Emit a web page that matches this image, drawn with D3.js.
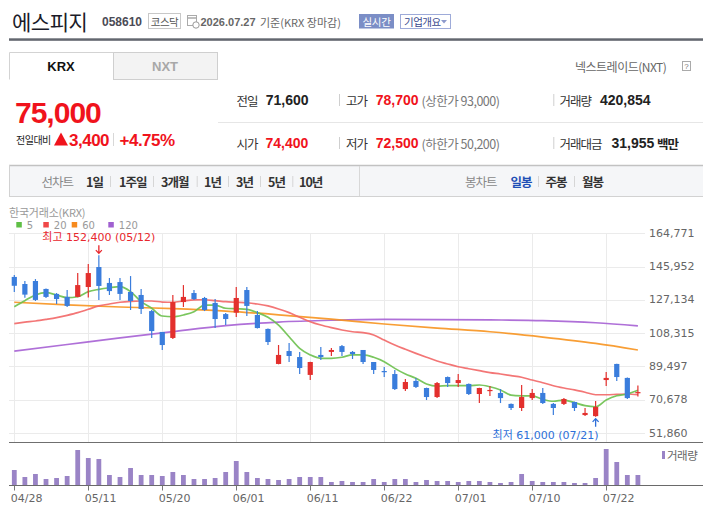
<!DOCTYPE html>
<html><head><meta charset="utf-8">
<script src="https://cdn.jsdelivr.net/npm/d3@7"></script>
<style>
html,body{margin:0;padding:0;background:#fff;}
svg{display:block;}
text{font-family:"Noto Sans CJK KR","Noto Sans",sans-serif;}
</style></head><body>
<script>
// ---------- data ----------
const dates=["04/28","04/29","04/30","05/04","05/06","05/07","05/08","05/11","05/12","05/13","05/14","05/15","05/18","05/19","05/20","05/21","05/22","05/26","05/27","05/28","05/29","06/01","06/02","06/04","06/05","06/08","06/09","06/10","06/11","06/12","06/15","06/16","06/17","06/18","06/19","06/22","06/23","06/24","06/25","06/26","06/29","06/30","07/01","07/02","07/03","07/06","07/07","07/08","07/09","07/10","07/13","07/14","07/15","07/16","07/20","07/21","07/22","07/23","07/24","07/27"];
const opens=[140100,136100,137800,133300,130500,128800,128800,134400,145700,136700,
137200,131600,129900,120800,109000,105600,125900,131000,128200,125400,
119100,119900,132700,118600,110700,90900,98200,94800,84700,96000,
97700,101000,97700,98800,92000,86900,85200,76700,81300,77300,
72200,83500,80100,79600,73900,75600,74500,68300,66000,71600,
74500,68300,68300,69400,62000,61400,81800,90900,83000,74400];
const highs=[141200,137800,138900,133600,131000,132700,142300,147400,152400,139500,
139500,140600,133300,121400,109000,129900,135500,132700,128800,127600,
119700,134400,134400,120800,110900,101600,102700,97700,92200,100500,
99900,101600,98200,98800,92000,89200,87500,82400,83000,77500,
80700,83800,85200,79800,77500,78400,76700,68500,79000,76700,
77300,68800,71600,69600,66000,70000,86300,91000,83200,78700];
const lows=[131600,128400,126500,128200,124800,123100,128600,128500,127100,129900,
127100,121400,119100,105600,98800,105000,123100,127100,120800,111200,
112900,117400,118000,111000,101600,90700,92000,85200,81800,93100,
95400,95400,93700,90900,85200,83500,76200,75600,77300,70500,
71600,77900,77900,73300,68800,72800,68800,64900,64300,70500,
68300,62000,67700,64300,61500,61000,78400,81300,71100,72500];
const closes=[135100,130100,127100,128800,127600,123700,135500,142300,135000,132100,
130500,126500,122000,109500,101600,125900,128800,127600,121400,116300,
116300,128200,123700,111200,103300,96000,95400,88600,92000,94800,
98800,97700,96500,92000,87500,86300,76700,80700,77900,72200,
80100,80100,81800,73900,77300,76200,71600,66000,72200,74500,
68800,66000,71100,66000,63200,66600,83000,83500,71600,75000];
const volumes=[625000,339000,462000,257000,298000,380000,1442000,1115000,1075000,421000,
339000,707000,421000,421000,380000,543000,421000,257000,257000,298000,
543000,993000,543000,298000,257000,217000,257000,339000,339000,339000,
135000,176000,135000,135000,257000,135000,257000,257000,135000,217000,
176000,176000,135000,176000,176000,135000,94000,135000,462000,176000,
135000,135000,135000,94000,94000,298000,1483000,952000,421000,420854];
const ma5=[123300,126700,129900,131200,129900,128400,128900,131800,133100,134000,
134600,131800,126100,122400,118000,117600,118600,120400,124200,124200,
122400,122100,121800,119900,117300,112900,106300,99700,96000,94100,
94100,94700,96000,96000,94700,92200,88400,85200,82800,79600,
78400,78600,78600,78600,79000,78000,76200,73300,72900,72800,
70900,69800,70500,69000,67300,66700,70500,72900,73900,76000];
const ma20=[113700,114500,115200,116100,117100,118400,119900,121800,123700,124800,
125800,126300,126500,126500,125900,125800,126500,127100,127200,126700,
126100,125800,125500,124800,123700,122000,119900,117300,114800,112900,
111400,110100,109100,108600,107300,104400,101600,99200,96900,94700,
92600,90900,89300,88200,87100,86000,85200,84300,83400,81800,
80300,78600,77300,76200,74900,73500,73500,73700,73900,73500];
const maSampleDates=["04/28","05/07","05/14","05/21","05/29","06/08","06/15","06/22","06/29","07/06","07/13","07/21","07/27"];
const ma60=[125800,124300,123100,122200,120800,118700,116200,113500,111200,109100,106100,102500,98800];
const ma120=[98200,101900,105600,109200,112600,114600,115600,116100,116000,115800,115400,114200,112400];
const xTickLabels=["04/28","05/11","05/20","06/01","06/11","06/22","07/01","07/10","07/22"];
const priceTicks=[51860,70678,89497,108315,127134,145952,164771];
const maLegend=["5","20","60","120"];
const chartTabs=["1일","1주일","3개월","1년","3년","5년","10년"];
const candleTabs=["일봉","주봉","월봉"];

// ---------- setup ----------
const NUM='"Liberation Sans",Arial,sans-serif';
const DV='"DejaVu Sans","Noto Sans CJK KR",sans-serif';
const RED='#f0131c';
const svg=d3.select('body').append('svg').attr('width',703).attr('height',509);
function T(x,y,s,o={}){
  const t=svg.append('text').attr('x',x).attr('y',y).text(s)
    .attr('dominant-baseline',o.db||'central').attr('font-size',o.size||12).attr('fill',o.fill||'#333');
  if(o.weight) t.attr('font-weight',o.weight);
  if(o.family) t.style('font-family',o.family);
  if(o.ls!=null) t.attr('letter-spacing',o.ls);
  if(o.anchor) t.attr('text-anchor',o.anchor);
  return t;
}
function L(x1,y1,x2,y2,c,w){svg.append('line').attr('x1',x1).attr('y1',y1).attr('x2',x2).attr('y2',y2).attr('stroke',c).attr('stroke-width',w||1);}

// ---------- header ----------
T(12,21,'에스피지',{size:21,fill:'#1b1b29',ls:-0.5});
T(102,22,'058610',{size:12,weight:'bold',fill:'#4b4b55',family:NUM});
svg.append('rect').attr('x',148.5).attr('y',13.5).attr('width',32).attr('height',15).attr('fill','#fff').attr('stroke','#c8c8c8');
T(164.5,21.5,'코스닥',{size:10.5,fill:'#555',anchor:'middle',ls:-0.5});
svg.append('rect').attr('x',187.5).attr('y',15.5).attr('width',9).attr('height',10).attr('fill','#fff').attr('stroke','#aaa');
L(187.5,18,196.5,18,'#aaa',1.5);
svg.append('circle').attr('cx',196).attr('cy',25).attr('r',3.2).attr('fill','#fff').attr('stroke','#999');
T(200.5,22,'2026.07.27',{size:11,weight:'bold',fill:'#666',family:NUM});
T(260,22,'기준(KRX 장마감)',{size:11,fill:'#666'});
svg.append('rect').attr('x',359).attr('y',14).attr('width',35).attr('height',14.5).attr('fill','#7b8ec6');
T(376.5,21.5,'실시간',{size:10.5,fill:'#fff',anchor:'middle',ls:-0.3});
svg.append('rect').attr('x',400.5).attr('y',14.5).attr('width',50).attr('height',14).attr('fill','#fff').attr('stroke','#9eabd9');
T(404,21.5,'기업개요',{size:10.5,fill:'#3a4a8e',ls:-0.5});
svg.append('path').attr('d','M441,20 L447,20 L444,23.5 Z').attr('fill','#8e9bcc');
svg.append('rect').attr('x',9).attr('y',38.3).attr('width',694).attr('height',2.5).attr('fill','#63676f');

// tabs
svg.append('rect').attr('x',113.5).attr('y',52.5).attr('width',104).attr('height',27).attr('fill','#f3f3f3').attr('stroke','#cfcfcf');
svg.append('path').attr('d','M9.5,79.5 V52.5 H113.5').attr('fill','none').attr('stroke','#d3d3d3');
T(61,66,'KRX',{size:13,weight:'bold',fill:'#111',anchor:'middle',family:NUM});
T(165,66,'NXT',{size:13,weight:'bold',fill:'#a8a8a8',anchor:'middle',family:NUM});
T(575,66,'넥스트레이드(NXT)',{size:12,fill:'#666',ls:-0.5});
svg.append('rect').attr('x',682.5).attr('y',61.5).attr('width',8).attr('height',9).attr('fill','#fff').attr('stroke','#aaa');
T(686.5,66,'?',{size:8,fill:'#777',anchor:'middle',family:NUM});

// price block
const fmt=d3.format(',');
const last=closes.length-1, prev=closes[last-1];
const diff=closes[last]-prev;
T(15,123.3,fmt(closes[last]),{db:'alphabetic',size:30,weight:'bold',fill:RED,family:NUM,ls:-1});
T(16,139.5,'전일대비',{size:10,fill:'#222',ls:-0.5});
svg.append('polygon').attr('points','54,145.5 61,132.5 68,145.5').attr('fill',RED);
T(69,145.5,fmt(diff),{db:'alphabetic',size:17,weight:'bold',fill:RED,family:NUM,ls:-0.5});
L(113.5,133,113.5,146,'#d8d8d8');
T(119.5,145.5,'+'+(diff/prev*100).toFixed(2)+'%',{db:'alphabetic',size:17,weight:'bold',fill:RED,family:NUM,ls:-0.5});

function info(x,y,label,val,color,lx){
  T(x,y,label,{size:12.5,fill:'#333',ls:-1});
  T(lx,y,val,{size:14,weight:'bold',fill:color,family:NUM});
}
info(236.5,100,'전일',fmt(prev),'#222',265.7);
info(236.5,143.3,'시가',fmt(opens[last]),RED,265.5);
info(346,100,'고가',fmt(highs[last]),RED,375.8);
info(346,143.3,'저가',fmt(lows[last]),RED,375.8);
T(421.5,100,'(상한가 93,000)',{size:12.5,fill:'#777',ls:-0.5});
T(421.5,143.3,'(하한가 50,200)',{size:12.5,fill:'#777',ls:-0.5});
info(559.5,100,'거래량',fmt(volumes[last]),'#222',600);
info(559.5,143.3,'거래대금','31,955','#222',611.5);
T(657,143.3,'백만',{size:12.5,weight:'bold',fill:'#222',ls:-1});
[339.5,553.8].forEach(x=>{L(x,94,x,106,'#cfcfcf');L(x,137,x,149,'#cfcfcf');});
L(218,122.5,703,122.5,'#e6e6e6');

// tab bar
svg.append('rect').attr('x',9).attr('y',165).attr('width',694).attr('height',32).attr('fill','#f5f6f8');
L(9,165.5,703,165.5,'#c2c2c2',1.5);L(9,196.5,703,196.5,'#d2d2d2');L(9.5,165,9.5,197,'#d2d2d2');
L(359.5,166,359.5,196,'#d8d8d8');
T(41.5,181,'선차트',{size:12.5,fill:'#888',ls:-1});
const tabX=[86,119,161,204,236,268,299];
chartTabs.forEach((s,i)=>{T(tabX[i],181,s,{size:12.5,weight:'bold',fill:'#333',ls:-1});});
[110,153,196.7,228,260,292.3].forEach(x=>L(x+0.5,176,x+0.5,187,'#d6d6d6'));
T(465,181,'봉차트',{size:12.5,fill:'#888',ls:-1});
const ctX=[510.5,545.5,582];
candleTabs.forEach((s,i)=>{T(ctX[i],181,s,{size:12.5,weight:'bold',fill:i===0?'#1f4fb5':'#333',ls:-1});});
[538,574].forEach(x=>L(x+0.5,176,x+0.5,187,'#d6d6d6'));

// ---------- chart ----------
const x=d3.scalePoint().domain(dates).range([14.3,637.9]);
const y=d3.scaleLinear().domain([51860,164771]).range([433,233.3]);
const yv=d3.scaleLinear().domain([0,1757000]).range([485.3,442.3]);
const g=svg.append('g');

// legend
T(9,212,'한국거래소(KRX)',{size:11,fill:'#999',ls:-0.2});
const maColors=['#5fbf45','#f04848','#f68a1e','#a060d0'];
const legX=[16.3,43.3,71.7,108.3];
maLegend.forEach((s,i)=>{
  svg.append('rect').attr('x',legX[i]).attr('y',222).attr('width',5.5).attr('height',5.5).attr('fill',maColors[i]);
  T(legX[i]+10.5,225,s,{size:10,fill:'#999',family:DV});
});

// grid
priceTicks.forEach(v=>{
  g.append('line').attr('x1',9).attr('x2',645).attr('y1',Math.round(y(v))+0.5).attr('y2',Math.round(y(v))+0.5).attr('stroke','#ebebeb');
  T(649,y(v),fmt(v),{size:11,fill:'#666',family:DV});
});
xTickLabels.forEach(d=>{
  const xx=Math.round(x(d))+0.5;
  g.append('line').attr('x1',xx).attr('x2',xx).attr('y1',233.3).attr('y2',442).attr('stroke','#ebebeb');
});

// MA lines
const lineIdx=d3.line().x((v,i)=>x(dates[i])).y(v=>y(v)).curve(d3.curveMonotoneX);
const lineS=d3.line().x((v,i)=>x(maSampleDates[i])).y(v=>y(v)).curve(d3.curveMonotoneX);
const maStroke=['#6cc04c','#f26767','#f7931f','#a661d4'];
[[ma120,lineS,3],[ma60,lineS,2],[ma20,lineIdx,1],[ma5,lineIdx,0]].forEach(([arr,fn,ci])=>{
  g.append('path').attr('d',fn(arr)).attr('fill','none').attr('stroke',maStroke[ci]).attr('stroke-width',1.7).attr('opacity',0.9);
});

// candles
const UP='#e3302d',DN='#3a7ddc';
dates.forEach((d,i)=>{
  const cx=x(d), up=closes[i]>=opens[i], col=up?UP:DN;
  g.append('line').attr('x1',cx).attr('x2',cx).attr('y1',y(highs[i])).attr('y2',y(lows[i])).attr('stroke',col).attr('stroke-width',1.2);
  const top=y(Math.max(opens[i],closes[i])), bot=y(Math.min(opens[i],closes[i]));
  g.append('rect').attr('x',cx-2.6).attr('width',5.2).attr('y',top).attr('height',Math.max(1.2,bot-top)).attr('fill',col);
});

// high / low annotations
const hiI=d3.maxIndex(highs), loI=d3.minIndex(lows);
const hx=x(dates[hiI]), hy=y(highs[hiI]);
T(hx,237.5,'최고 '+fmt(highs[hiI])+' ('+dates[hiI]+')',{size:11,fill:'#e8272d',anchor:'middle',family:DV});
svg.append('path').attr('d',`M${hx},${hy-10} V${hy-2} M${hx-3},${hy-5} L${hx},${hy-1.8} L${hx+3},${hy-5}`).attr('fill','none').attr('stroke','#e8272d').attr('stroke-width',1.3);
const lx=x(dates[loI]), ly=y(lows[loI]);
T(lx+3,435,'최저 '+fmt(lows[loI])+' ('+dates[loI]+')',{size:11,fill:'#2d6fd8',anchor:'end',family:DV});
svg.append('path').attr('d',`M${lx},${ly+10} V${ly+2} M${lx-3},${ly+5} L${lx},${ly+1.8} L${lx+3},${ly+5}`).attr('fill','none').attr('stroke','#2d6fd8').attr('stroke-width',1.3);

// volume
L(9,442.5,703,442.5,'#6f6f6f');
dates.forEach((d,i)=>{
  g.append('rect').attr('x',x(d)-2.4).attr('width',4.8).attr('y',yv(volumes[i])).attr('height',485.3-yv(volumes[i])).attr('fill','#9a84c6');
});
L(9,485.5,703,485.5,'#6a6a6a');
svg.append('rect').attr('x',662).attr('y',451).attr('width',3).attr('height',8).attr('fill','#9a84c6');
T(667,455,'거래량',{size:11.5,fill:'#666',ls:-0.5});
xTickLabels.forEach(d=>{
  const xx=Math.round(x(d))+0.5;
  L(xx,485.5,xx,490.5,'#777');
  T(x(d)-3.5,498.5,d,{size:11,fill:'#666',family:DV});
});
</script></body></html>
